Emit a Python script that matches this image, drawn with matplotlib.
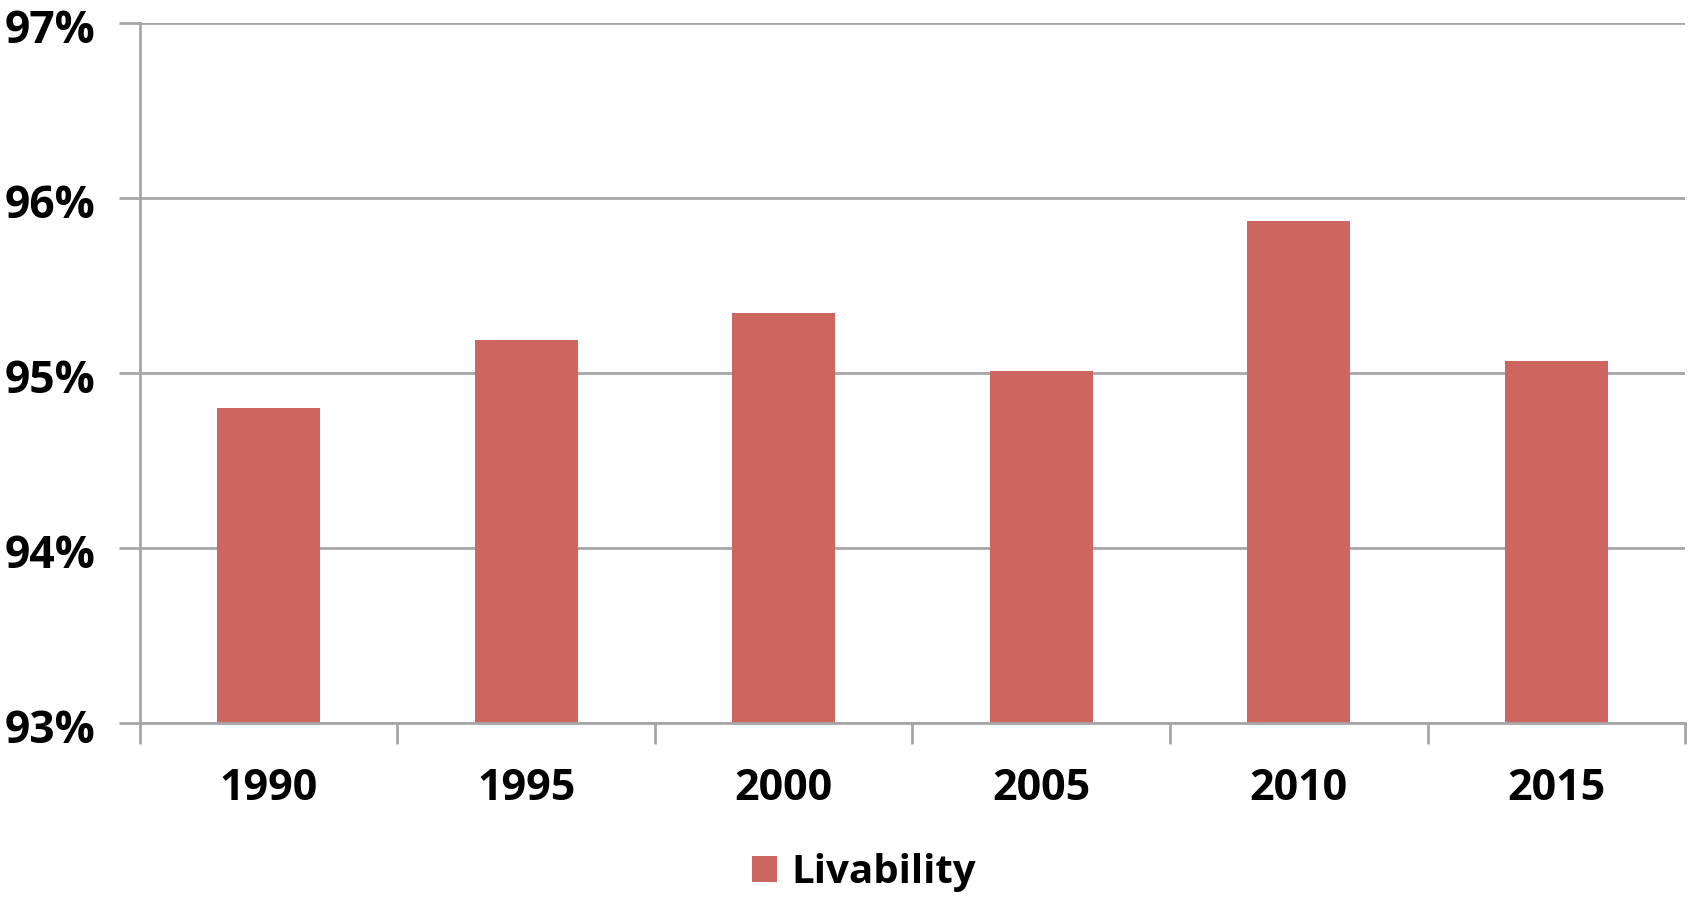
import numpy as np
import matplotlib.pyplot as plt
import matplotlib.transforms as mtransforms
from matplotlib.ticker import FuncFormatter

# Données
years = ['1990', '1995', '2000', '2005', '2010', '2015']
livability = [94.80, 95.19, 95.34, 95.01, 95.87, 95.07]

bar_color = '#cd6661'
grid_color = '#a6a6a6'

plt.rcParams['font.family'] = ['Open Sans', 'DejaVu Sans']
plt.rcParams['font.weight'] = 'bold'

fig = plt.figure(figsize=(16.94, 8.97), dpi=100)
ax = fig.add_axes([0.0826, 0.194, 0.9121, 0.7804])

x = np.arange(len(years))
ax.bar(x, livability, width=0.4, color=bar_color, label='Livability', zorder=3)
ax.set_ylim(93, 97)
ax.set_xlim(-0.5, len(years) - 0.5)

# Grille horizontale
ax.set_yticks([93, 94, 95, 96, 97])
ax.yaxis.set_major_formatter(FuncFormatter(lambda v, p: '%d%%' % v))
ax.grid(axis='y', color=grid_color, linewidth=2, zorder=0)

# Ticks x entre les catégories, labels au centre
ax.set_xticks(np.arange(-0.5, len(years)), minor=False)
ax.set_xticklabels([''] * (len(years) + 1))
ax.set_xticks(x, minor=True)
ax.set_xticklabels(years, minor=True)
ax.tick_params(axis='x', which='major', length=15, width=2, color=grid_color, direction='out')
ax.tick_params(axis='x', which='minor', length=0, pad=32, labelsize=31)
ax.tick_params(axis='y', length=15, width=2, color=grid_color, pad=17, labelsize=32)
for lab in ax.get_xticklabels(minor=True) + ax.get_yticklabels():
    lab.set_fontweight('bold')

# Décale un peu les labels y vers le bas
offset = mtransforms.ScaledTranslation(0, -3 / 100, fig.dpi_scale_trans)
for lab in ax.get_yticklabels():
    lab.set_transform(lab.get_transform() + offset)

for s in ['top', 'right']:
    ax.spines[s].set_visible(False)
for s in ['left', 'bottom']:
    ax.spines[s].set_color(grid_color)
    ax.spines[s].set_linewidth(2)
ax.spines['bottom'].set_zorder(4)

fig.legend(loc='center', bbox_to_anchor=(0.51, 0.027), frameon=False,
           prop={'size': 29, 'weight': 'bold'},
           handlelength=0.63, handleheight=0.63, handletextpad=0.36)

plt.savefig('out.png', dpi=100)
